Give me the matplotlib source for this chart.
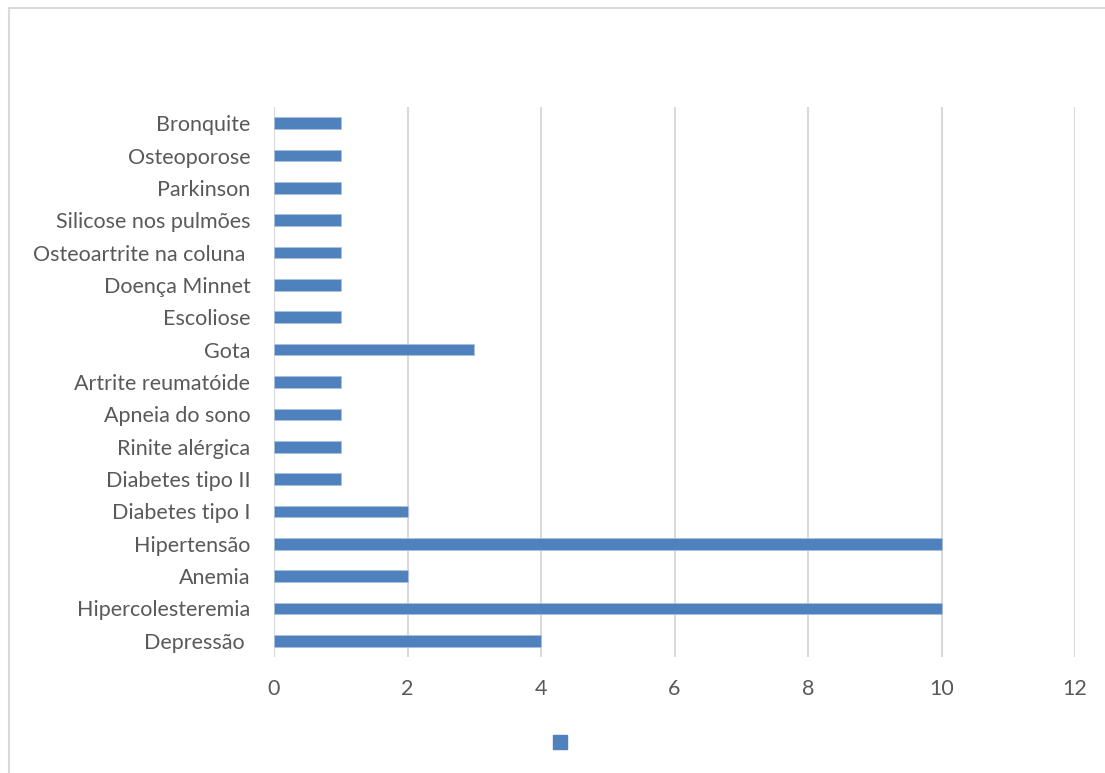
import matplotlib.pyplot as plt
from matplotlib.patches import Rectangle

plt.rcParams['font.family'] = ['Lato', 'DejaVu Sans']

doencas = ["Depressão ", "Hipercolesteremia", "Anemia", "Hipertensão",
           "Diabetes tipo I", "Diabetes tipo II", "Rinite alérgica",
           "Apneia do sono", "Artrite reumatóide", "Gota", "Escoliose",
           "Doença Minnet", "Osteoartrite na coluna ", "Silicose nos pulmões",
           "Parkinson", "Osteoporose", "Bronquite"]
casos = [4, 10, 2, 10, 2, 1, 1, 1, 1, 3, 1, 1, 1, 1, 1, 1, 1]
x_ticks = [0, 2, 4, 6, 8, 10, 12]

W, H = 1105, 773
fig = plt.figure(figsize=(W / 100, H / 100), dpi=100)
ax = fig.add_axes([274 / W, 1 - 657 / H, (1075 - 274) / W, (657 - 107) / H])

# outer chart border, cut by the right and bottom image edges
fig.patches.append(Rectangle((8.5 / W, -0.05), 1.1, 1 - 7.5 / H + 0.05,
                             transform=fig.transFigure, fill=False,
                             edgecolor="#d9d9d9", linewidth=1.5))

pos = range(len(doencas))
ax.barh(pos, casos, height=0.36, color="#4f81bd", edgecolor="#a9c1e0",
        linewidth=0.6, zorder=3)

ax.set_xlim(0, 12)
ax.set_ylim(-0.5, len(doencas) - 0.5)
ax.set_xticks(x_ticks)
ax.set_yticks(list(pos))
ax.set_yticklabels(doencas)
ax.xaxis.grid(True, color="#d9d9d9", linewidth=1.5, zorder=0)
for s in ax.spines.values():
    s.set_visible(False)
ax.tick_params(axis="both", length=0, labelsize=15.5, colors="#595959")
ax.tick_params(axis="x", pad=16)
ax.tick_params(axis="y", pad=17)

# legend key without a label
fig.patches.append(Rectangle((553 / W, 1 - 749 / H), 14 / W, 14 / H,
                             transform=fig.transFigure, color="#4f81bd"))

fig.savefig("out.png", dpi=100)
